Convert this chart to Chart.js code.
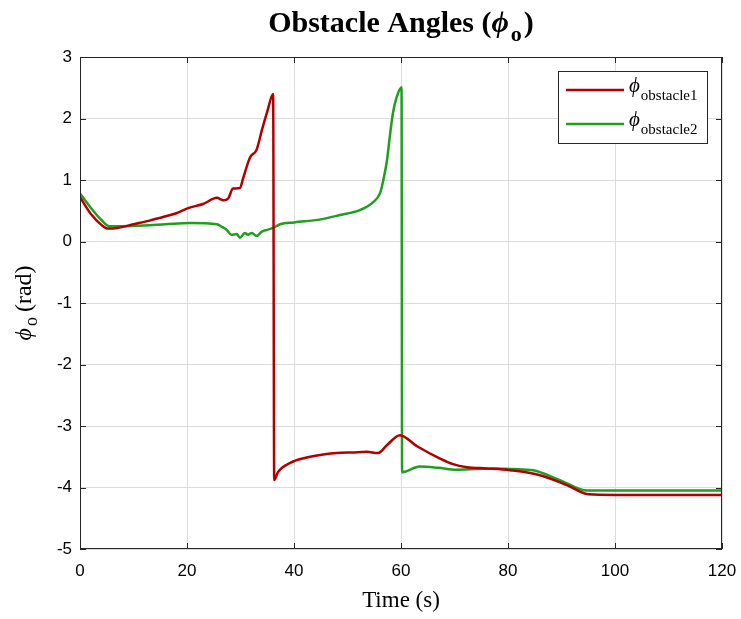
<!DOCTYPE html>
<html><head><meta charset="utf-8">
<script src="https://cdn.jsdelivr.net/npm/chart.js@4"></script>
<style>html,body{margin:0;padding:0;background:#fff}#wrap{width:741px;height:619px}</style>
</head><body><div id="wrap"><canvas id="c" width="741" height="619"></canvas></div>
<script>
const xTicks = [0, 20, 40, 60, 80, 100, 120];
const yTicks = [-5, -4, -3, -2, -1, 0, 1, 2, 3];
const seriesNames = ['obstacle1', 'obstacle2'];

const obs1Time = [0, 2, 4, 5.2, 7, 10, 13, 16, 18, 20.5, 23, 25.6, 26.8, 27.7, 28.6, 29.9, 30.5, 31.8, 33, 34, 35, 36.1, 36.3, 37, 39.3, 42, 44.9, 48, 51, 53.6, 55.7, 57.5, 59.8, 63, 67.3, 69.7, 72.3, 76, 80.4, 86, 91, 95, 100, 110, 120];
const obs1Angle = [0.72, 0.45, 0.27, 0.21, 0.22, 0.28, 0.34, 0.41, 0.46, 0.55, 0.61, 0.71, 0.67, 0.70, 0.86, 0.87, 1.03, 1.37, 1.49, 1.81, 2.11, 2.40, -3.88, -3.75, -3.6, -3.52, -3.47, -3.44, -3.43, -3.42, -3.44, -3.3, -3.15, -3.33, -3.53, -3.62, -3.67, -3.69, -3.72, -3.8, -3.96, -4.11, -4.12, -4.12, -4.12];

const obs2Time = [0, 2, 4, 5.5, 8, 12, 16, 20.5, 25.6, 26.5, 27.4, 28.3, 29.3, 29.9, 30.8, 31.4, 32.1, 33, 34, 35, 36.1, 37.4, 40, 45, 48.6, 52.3, 54.8, 56.1, 56.7, 57.4, 57.9, 58.5, 59.2, 60.1, 60.2, 63.5, 67, 70.4, 74, 77.2, 81, 84.7, 89.7, 94.8, 100, 110, 120];
const obs2Angle = [0.78, 0.55, 0.35, 0.25, 0.25, 0.26, 0.28, 0.30, 0.28, 0.24, 0.19, 0.11, 0.12, 0.06, 0.14, 0.11, 0.14, 0.09, 0.16, 0.19, 0.22, 0.28, 0.31, 0.36, 0.43, 0.51, 0.64, 0.79, 1.0, 1.33, 1.7, 2.09, 2.35, 2.51, -3.75, -3.66, -3.68, -3.71, -3.70, -3.69, -3.70, -3.72, -3.88, -4.05, -4.05, -4.05, -4.05];

const RED = '#b00000', GREEN = '#1f9e1f';
const PHI = '\u03D5';
const pts = (t, v) => t.map((x, i) => ({x: x, y: v[i]}));

const serif = '"Liberation Serif", "Times New Roman", serif';
const sans = '"Liberation Sans", Arial, sans-serif';

function drawSub(ctx, parts, x, y, align) {
  let w = 0;
  parts.forEach(p => { ctx.font = p.font; p.w = ctx.measureText(p.t).width; w += p.w + (p.gap||0); });
  let cx = align === 'center' ? x - w / 2 : x;
  ctx.textAlign = 'left'; ctx.textBaseline = 'alphabetic';
  parts.forEach(p => { ctx.font = p.font; ctx.fillText(p.t, cx, y + (p.dy || 0)); cx += p.w + (p.gap||0); });
}

const matlabPlugin = {
  id: 'matlab',
  afterDraw(chart) {
    const ctx = chart.ctx, a = chart.chartArea, xs = chart.scales.x, ys = chart.scales.y;
    ctx.save();
    ctx.strokeStyle = '#262626'; ctx.lineWidth = 1;
    ctx.strokeRect(a.left + 0.5, a.top + 0.5, a.right - a.left - 1, a.bottom - a.top - 1);
    ctx.beginPath();
    xTicks.forEach(v => { const px = Math.round(xs.getPixelForValue(v)) + 0.5;
      ctx.moveTo(px, a.bottom); ctx.lineTo(px, a.bottom - 6);
      ctx.moveTo(px, a.top); ctx.lineTo(px, a.top + 6); });
    yTicks.forEach(v => { const py = Math.round(ys.getPixelForValue(v)) + 0.5;
      ctx.moveTo(a.left, py); ctx.lineTo(a.left + 6, py);
      ctx.moveTo(a.right, py); ctx.lineTo(a.right - 6, py); });
    ctx.stroke();
    ctx.fillStyle = '#000';
    drawSub(ctx, [
      {t: 'Obstacle Angles (', font: 'bold 30px ' + serif},
      {t: PHI, font: 'bold italic 30px ' + serif, gap: 2},
      {t: 'o', font: 'bold 22px ' + serif, dy: 9, gap: 2},
      {t: ')', font: 'bold 30px ' + serif}
    ], (a.left + a.right) / 2, 32, 'center');
    ctx.save();
    ctx.translate(31, (a.top + a.bottom) / 2);
    ctx.rotate(-Math.PI / 2);
    drawSub(ctx, [
      {t: PHI, font: 'italic 24px ' + serif, gap: 2},
      {t: 'o', font: '18px ' + serif, dy: 6, gap: 5},
      {t: '(rad)', font: '24px ' + serif}
    ], 0, 0, 'center');
    ctx.restore();
    const lx = 558, ly = 71, lw = 149, lh = 72;
    ctx.fillStyle = '#fff'; ctx.fillRect(lx, ly, lw, lh);
    ctx.strokeStyle = '#262626'; ctx.lineWidth = 1; ctx.strokeRect(lx + 0.5, ly + 0.5, lw, lh);
    chart.data.datasets.forEach((ds, i) => {
      const yy = ly + 19 + i * 34;
      ctx.strokeStyle = ds.borderColor; ctx.lineWidth = 2.5;
      ctx.beginPath(); ctx.moveTo(566, yy); ctx.lineTo(624, yy); ctx.stroke();
      ctx.fillStyle = '#000';
      drawSub(ctx, [
        {t: PHI, font: 'italic 21px ' + serif, gap: 1},
        {t: ds.label, font: '15px ' + serif, dy: 8}
      ], 629, yy + 2, 'left');
    });
    ctx.restore();
  }
};

new Chart(document.getElementById('c'), {
  type: 'line',
  data: {
    datasets: [
      {label: seriesNames[0], data: pts(obs1Time, obs1Angle), borderColor: RED, backgroundColor: RED, borderWidth: 2.5, pointRadius: 0, cubicInterpolationMode: 'monotone', fill: false},
      {label: seriesNames[1], data: pts(obs2Time, obs2Angle), borderColor: GREEN, backgroundColor: GREEN, borderWidth: 2.5, pointRadius: 0, cubicInterpolationMode: 'monotone', fill: false}
    ]
  },
  options: {
    responsive: false, animation: false, devicePixelRatio: 1,
    layout: {padding: {top: 57, right: 19, left: 0, bottom: 0}},
    plugins: {legend: {display: false}, title: {display: false}, tooltip: {enabled: false}},
    scales: {
      x: {type: 'linear', min: 0, max: 120,
        afterBuildTicks: s => { s.ticks = xTicks.map(v => ({value: v})); },
        afterFit: s => { s.height = 70; s.paddingLeft = 0; s.paddingRight = 0; },
        ticks: {font: {family: sans, size: 17}, color: '#000', padding: 12, maxRotation: 0},
        grid: {color: '#dcdcdc', lineWidth: 1, drawTicks: false},
        border: {display: false},
        title: {display: true, text: 'Time (s)', font: {family: serif, size: 23}, color: '#000', padding: {top: 0}}
      },
      y: {type: 'linear', min: -5, max: 3,
        afterBuildTicks: s => { s.ticks = yTicks.map(v => ({value: v})); },
        afterFit: s => { s.width = 80; s.paddingTop = 0; s.paddingBottom = 0; },
        ticks: {font: {family: sans, size: 17}, color: '#000', padding: 8},
        grid: {color: '#dcdcdc', lineWidth: 1, drawTicks: false},
        border: {display: false}
      }
    }
  },
  plugins: [matlabPlugin]
});
</script></body></html>
